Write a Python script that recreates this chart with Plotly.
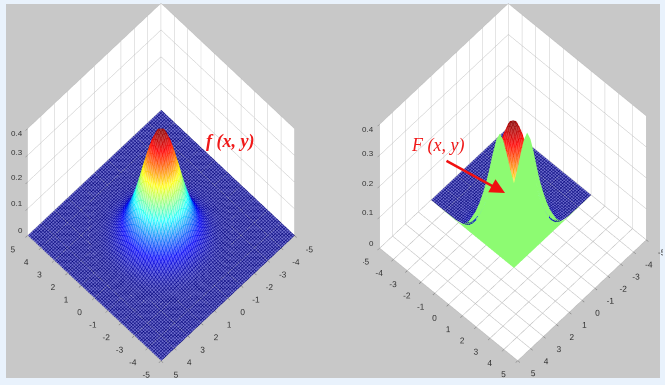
import numpy as np
import plotly.graph_objects as go

half_axis = [0, .25, .5, .75, 1, 1.25, 1.5, 1.75, 2, 2.25, 2.5, 2.75, 3, 3.25, 3.5, 4, 4.5, 5]
quadrant = [
 [.399,.387,.352,.301,.242,.183,.130,.086,.054,.032,.018,.009,.004,.002,.001,0,0,0],
 [.387,.375,.341,.292,.234,.177,.126,.083,.052,.031,.017,.009,.004,.002,.001,0,0,0],
 [.352,.341,.311,.266,.213,.161,.114,.076,.048,.028,.015,.008,.004,.002,.001,0,0,0],
 [.301,.292,.266,.227,.183,.138,.098,.065,.041,.024,.013,.007,.003,.002,.001,0,0,0],
 [.242,.234,.213,.183,.147,.111,.079,.052,.033,.019,.011,.006,.003,.001,.001,0,0,0],
 [.183,.177,.161,.138,.111,.084,.059,.039,.025,.015,.008,.004,.002,.001,0,0,0,0],
 [.130,.126,.114,.098,.079,.059,.042,.028,.018,.010,.006,.003,.001,.001,0,0,0,0],
 [.086,.083,.076,.065,.052,.039,.028,.019,.012,.007,.004,.002,.001,0,0,0,0,0],
 [.054,.052,.048,.041,.033,.025,.018,.012,.007,.004,.002,.001,.001,0,0,0,0,0],
 [.032,.031,.028,.024,.019,.015,.010,.007,.004,.003,.001,.001,0,0,0,0,0,0],
 [.018,.017,.015,.013,.011,.008,.006,.004,.002,.001,.001,0,0,0,0,0,0,0],
 [.009,.009,.008,.007,.006,.004,.003,.002,.001,.001,0,0,0,0,0,0,0,0],
 [.004,.004,.004,.003,.003,.002,.001,.001,.001,0,0,0,0,0,0,0,0,0],
 [.002,.002,.002,.002,.001,.001,.001,0,0,0,0,0,0,0,0,0,0,0],
 [.001,.001,.001,.001,.001,0,0,0,0,0,0,0,0,0,0,0,0,0],
 [0]*18, [0]*18, [0]*18,
]
wall_axis = [-5, -4, -3, -2.75, -2.5, -2.25, -2, -1.75, -1.5, -1.25, -1, -.75, -.5, -.25, 0, .25, .5, .75, 1.03]
wall_height = [0, .0005, .002, .006, .017, .032, .056, .082, .115, .155, .2, .255, .315, .367, .397, .385, .35, .31, .274]
axis_ticks = [-5, -4, -3, -2, -1, 0, 1, 2, 3, 4, 5]
axis_labels = ["-5", "-4", "-3", "-2", "-1", "0", "1", "2", "3", "4", "5"]
z_ticks = [0, .1, .2, .3, .4]
z_labels = ["0", "0.1", "0.2", "0.3", "0.4"]
z_label_y_left = [230, 204, 177, 152, 127]
z_label_y_right = [243, 213, 183, 153, 123]

q = np.array(quadrant)
h = np.array(half_axis)
axis = np.concatenate([-h[:0:-1], h])
Z = np.block([[q[:0:-1, :0:-1], q[:0:-1, :]], [q[:, :0:-1], q]])

line_scale = [[0, "#000078"], [.12, "#0000f0"], [.37, "#00ffff"], [.62, "#ffff00"], [.87, "#ff0000"], [1, "#800000"]]
face_scale = [[0, "#6c6ccc"], [.12, "#5a5aff"], [.37, "#90ffff"], [.62, "#ffff70"], [.87, "#ff3a3a"], [1, "#a84040"]]
flat = dict(ambient=1, diffuse=0, specular=0, roughness=1, fresnel=0)


def face_trace(x, y, z, scene):
    off = dict(highlight=False)
    return go.Surface(x=x, y=y, z=z, scene=scene, colorscale=face_scale, cmin=0, cmax=.4, showscale=False,
                      lighting=flat, hoverinfo="skip", contours=dict(x=off, y=off, z=off))


def line_trace(x, y, z, scene, step):
    grid = dict(show=True, usecolormap=True, start=-5, end=5, size=step, width=1, highlight=False)
    off = dict(highlight=False)
    return go.Surface(x=x, y=y, z=z, scene=scene, colorscale=line_scale, cmin=0, cmax=.4, showscale=False,
                      lighting=flat, hoverinfo="skip", hidesurface=True,
                      contours=dict(x=grid, y=grid, z=off))


fig = go.Figure()
fig.add_trace(face_trace(axis, axis, Z, "scene"))
fig.add_trace(line_trace(axis, axis, Z, "scene", .13))

keep = axis <= 1
fig.add_trace(face_trace(axis[keep], axis[keep], Z[np.ix_(keep, keep)], "scene2"))
keep_lines = axis <= .75
fig.add_trace(line_trace(axis[keep_lines], axis[keep_lines], Z[np.ix_(keep_lines, keep_lines)], "scene2", .13))
# the flat floor strips that run along the foot of each wall
low = axis <= -1.75
edge = (axis >= .75) & (axis <= 1)
fig.add_trace(line_trace(axis[low], axis[edge], Z[np.ix_(edge, low)], "scene2", .13))
fig.add_trace(line_trace(axis[edge], axis[low], Z[np.ix_(low, edge)], "scene2", .13))

wa = np.array(wall_axis)
wh = np.array(wall_height)
green = [[0, "#8dfb72"], [1, "#8dfb72"]]
wall_base = np.zeros_like(wa)
wall_pos = wall_base + 1.03
fig.add_trace(go.Surface(x=np.array([wall_pos, wall_pos]), y=np.array([wa, wa]),
                         z=np.array([wall_base, wh]), scene="scene2", colorscale=green, showscale=False,
                         lighting=flat, hoverinfo="skip"))
fig.add_trace(go.Surface(x=np.array([wa, wa]), y=np.array([wall_pos, wall_pos]),
                         z=np.array([wall_base, wh]), scene="scene2", colorscale=green, showscale=False,
                         lighting=flat, hoverinfo="skip"))


def axis3d(rng, ticks, labels, show=True):
    return dict(range=rng, autorange=False, tickmode="array", tickvals=ticks, ticktext=labels, title=dict(text=""),
                showbackground=True, backgroundcolor="white", gridcolor="#b8b8b8", gridwidth=1,
                showline=False, zeroline=False, showspikes=False, ticks="outside", ticklen=3, tickcolor="#777",
                tickangle=0, showticklabels=show,
                tickfont=dict(family="Liberation Sans", size=10, color="#333"))


def scene(dom_x, eye, zasp, cz):
    eye = dict(eye, z=eye["z"] + cz)
    return dict(domain=dict(x=dom_x, y=[0, 1]), bgcolor="rgba(0,0,0,0)",
                aspectmode="manual", aspectratio=dict(x=.98, y=.98, z=zasp),
                camera=dict(eye=eye, up=dict(x=0, y=0, z=1), center=dict(x=0, y=0, z=cz),
                            projection=dict(type="orthographic")),
                xaxis=axis3d([-5, 5], axis_ticks, axis_labels), yaxis=axis3d([-5, 5], axis_ticks, axis_labels),
                zaxis=axis3d([0, .4], z_ticks, z_labels, show=False))


W, H = 665.0, 385.0
notes = [
    dict(xref="paper", yref="paper", x=230 / W, y=1 - 141 / H, showarrow=False,
         text="<b><i>f (x, y)</i></b>", font=dict(family="Liberation Serif", size=18, color="#f01818")),
    dict(xref="paper", yref="paper", x=437 / W, y=1 - 145 / H, showarrow=False,
         text="<i>F (x, y)</i>", font=dict(family="Liberation Serif", size=18, color="#f01818")),
    dict(xref="paper", yref="paper", x=505 / W, y=1 - 193 / H, ax=445 - 505, ay=160 - 193, text="",
         showarrow=True, arrowhead=2, arrowsize=1.2, arrowwidth=2.5, arrowcolor="#f01010"),
]
tick_font = dict(family="Liberation Sans", size=8, color="#333")
for label, yl, yr in zip(z_labels, z_label_y_left, z_label_y_right):
    notes.append(dict(xref="paper", yref="paper", x=25 / W, y=1 - yl / H, xanchor="right", showarrow=False,
                      text=label, font=tick_font))
    notes.append(dict(xref="paper", yref="paper", x=376 / W, y=1 - yr / H, xanchor="right", showarrow=False,
                      text=label, font=tick_font))

fig.update_layout(
    width=665, height=385, margin=dict(l=0, r=0, t=0, b=0), showlegend=False,
    paper_bgcolor="#e9f2fc", plot_bgcolor="rgba(0,0,0,0)",
    scene=scene([0.7 / W, 320.7 / W], dict(x=-.49, y=.49, z=1.9), 1.62, -.159),
    scene2=scene([363.3 / W, 663.3 / W], dict(x=.73 * .97, y=.68 * .97, z=1.75), 1.33, -.112),
    shapes=[dict(type="rect", xref="paper", yref="paper", x0=6 / W, x1=660 / W, y0=1 - 378 / H, y1=1 - 4 / H,
                 fillcolor="#c8c8c8", line=dict(width=0), layer="below")],
    annotations=notes,
)
fig.write_html("out.html", config={"displayModeBar": False},
               post_script="document.body.style.margin='0';document.documentElement.style.background='#e9f2fc';")
